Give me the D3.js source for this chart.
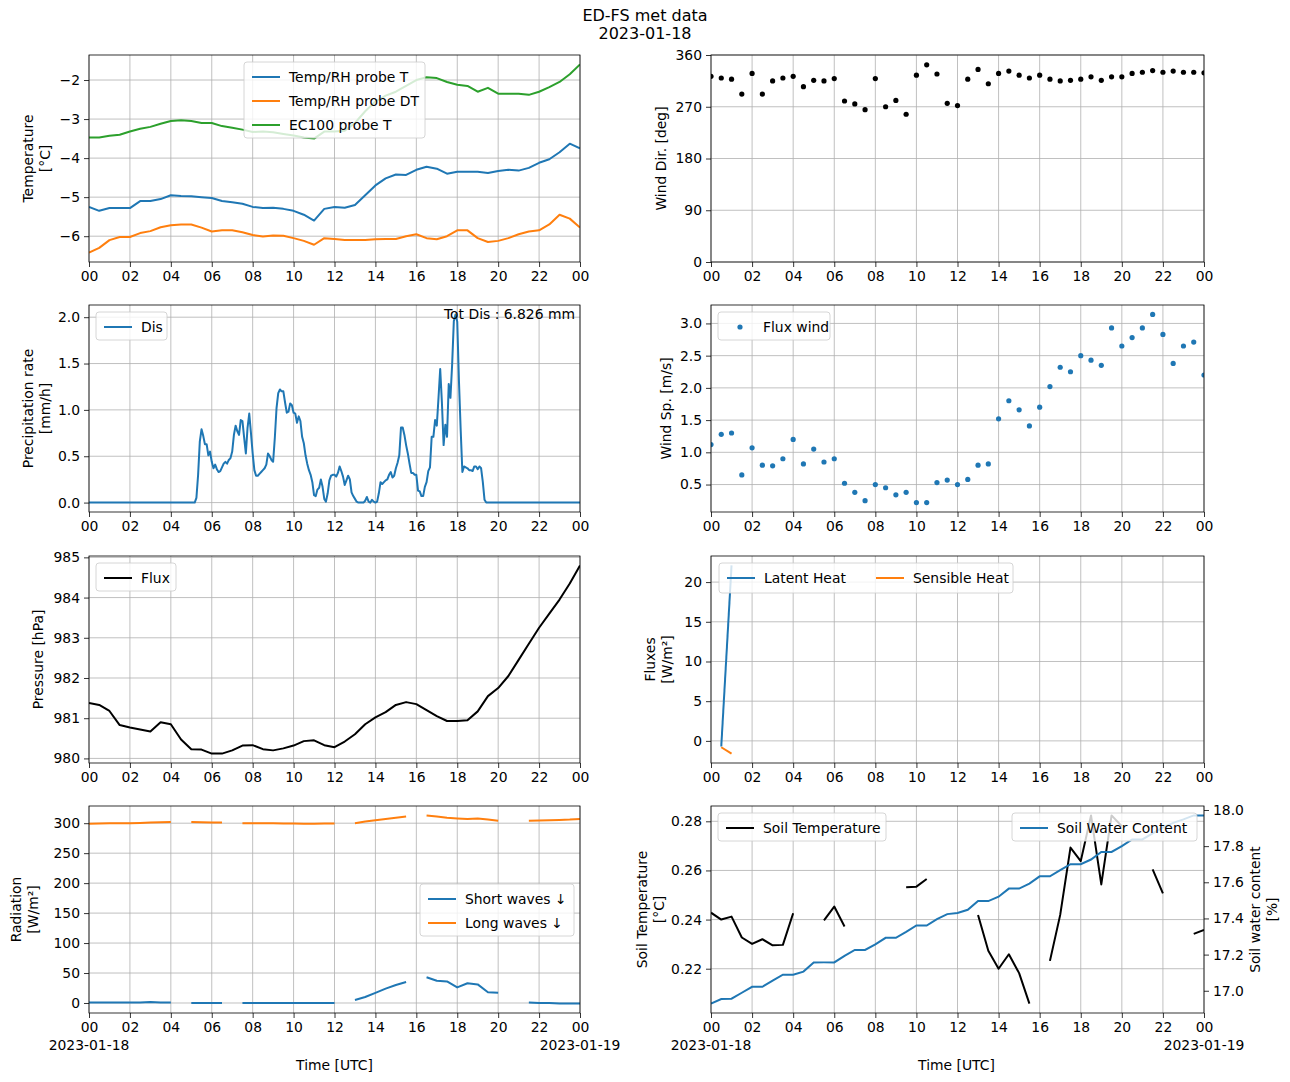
<!DOCTYPE html>
<html><head><meta charset="utf-8">
<script src="https://cdn.jsdelivr.net/npm/d3@7"></script>
<style>body{margin:0;background:#fff}text{font-family:"DejaVu Sans",sans-serif;}</style>
</head><body><svg id="c" width="1290" height="1082"></svg>
<script>
// ---------- DATA ----------
const timeTickLabels = ["00","02","04","06","08","10","12","14","16","18","20","22","00"];
const tempT = [-5.25,-5.35,-5.28,-5.28,-5.28,-5.1,-5.1,-5.05,-4.95,-4.97,-4.98,-5.0,-5.02,-5.1,-5.13,-5.17,-5.25,-5.28,-5.27,-5.3,-5.35,-5.45,-5.6,-5.3,-5.25,-5.27,-5.2,-4.95,-4.7,-4.52,-4.42,-4.43,-4.3,-4.22,-4.27,-4.4,-4.35,-4.35,-4.35,-4.38,-4.33,-4.3,-4.32,-4.25,-4.12,-4.03,-3.85,-3.63,-3.75];
const tempDT = [-6.42,-6.3,-6.1,-6.02,-6.02,-5.92,-5.87,-5.77,-5.72,-5.7,-5.7,-5.78,-5.88,-5.85,-5.85,-5.9,-5.97,-6.01,-5.98,-5.99,-6.05,-6.12,-6.22,-6.05,-6.07,-6.1,-6.1,-6.1,-6.08,-6.07,-6.07,-6.0,-5.95,-6.05,-6.08,-6.0,-5.85,-5.85,-6.05,-6.15,-6.12,-6.05,-5.95,-5.88,-5.85,-5.7,-5.45,-5.55,-5.78];
const tempEC = [-3.47,-3.47,-3.43,-3.4,-3.32,-3.25,-3.2,-3.12,-3.05,-3.03,-3.05,-3.1,-3.1,-3.18,-3.22,-3.27,-3.33,-3.32,-3.34,-3.38,-3.42,-3.47,-3.5,-3.32,-3.32,-3.3,-3.1,-2.8,-2.55,-2.4,-2.3,-2.15,-2.0,-1.93,-1.95,-2.05,-2.12,-2.15,-2.3,-2.2,-2.35,-2.35,-2.35,-2.38,-2.3,-2.18,-2.05,-1.85,-1.6];
const windDir = [323,320,318,292,328,292,315,320,323,305,316,315,319,280,275,265,319,270,281,257,325,343,327,276,272,318,335,310,328,332,325,320,325,318,315,316,318,322,316,322,322,328,330,333,330,332,330,330,329];
const windSpeed = [1.12,1.28,1.3,0.65,1.07,0.8,0.79,0.9,1.2,0.82,1.05,0.85,0.9,0.52,0.38,0.25,0.5,0.45,0.34,0.38,0.22,0.22,0.53,0.57,0.5,0.58,0.8,0.82,1.52,1.8,1.66,1.41,1.7,2.02,2.32,2.25,2.5,2.43,2.35,2.93,2.65,2.78,2.93,3.14,2.83,2.38,2.65,2.71,2.2];
const pressure = [981.38,981.33,981.18,980.83,980.77,980.72,980.67,980.9,980.85,980.47,980.23,980.22,980.12,980.12,980.2,980.32,980.33,980.23,980.2,980.25,980.32,980.43,980.45,980.33,980.28,980.42,980.6,980.85,981.02,981.15,981.33,981.4,981.35,981.2,981.05,980.93,980.93,980.95,981.17,981.55,981.75,982.05,982.45,982.85,983.25,983.6,983.95,984.35,984.8];
// discharge: 5-minute values from 05:00 to 19:25 (zero elsewhere)
const disValues = [0,0,0,0.05,0.30,0.66,0.79,0.72,0.63,0.63,0.51,0.55,0.44,0.37,0.41,0.36,0.33,0.34,0.38,0.42,0.44,0.42,0.46,0.48,0.55,0.73,0.83,0.77,0.73,0.89,0.88,0.70,0.53,0.81,0.96,0.75,0.53,0.35,0.29,0.29,0.31,0.33,0.35,0.37,0.41,0.53,0.50,0.46,0.44,0.70,1.02,1.18,1.22,1.20,1.20,1.08,0.97,0.98,1.07,1.05,0.97,0.96,0.86,0.93,0.88,0.71,0.64,0.51,0.42,0.35,0.30,0.22,0.08,0.07,0.14,0.16,0.25,0.17,0.04,0.01,0.10,0.24,0.29,0.30,0.30,0.28,0.32,0.39,0.34,0.28,0.19,0.24,0.29,0.25,0.11,0.07,0.04,0.01,0,0,0,0,0.02,0.06,0.01,0,0.03,0.01,0,0.01,0.10,0.22,0.20,0.22,0.24,0.25,0.30,0.33,0.27,0.29,0.37,0.43,0.51,0.81,0.81,0.73,0.62,0.53,0.42,0.32,0.32,0.30,0.30,0.13,0.12,0.07,0.07,0.17,0.22,0.34,0.38,0.71,0.71,0.89,0.83,1.13,1.44,1.08,0.62,0.84,0.71,1.28,1.13,1.49,1.96,2.03,1.95,1.31,0.79,0.33,0.39,0.38,0.37,0.35,0.35,0.34,0.39,0.39,0.36,0.39,0.37,0.22,0.03,0];
const totDis = "Tot Dis : 6.826 mm";
const latentHeat = [[0.5,-0.7],[1.0,22.1]];
const sensibleHeat = [[0.5,-0.8],[1.0,-1.6]];
const shortWaves = [1,1,1,1,1,1,1.5,1,1,null,0,0,0,0,null,0,0,0,0,0,0,0,0,0,0,null,5,10,17,24,30,35,null,43,37,36,26,33,31,18,17,null,null,1,0,0,-1,-1,-1];
const longWaves = [299,299.5,300,300,300,300.5,301,301.5,302,null,302,301.5,301,301,null,300,300,300,300,299.5,299.5,299,299,299.5,299.5,null,300,303,305,307,309,311,null,313,311,309,308,307,308,306,304,null,null,304,304.5,305,305.5,306,307];
const soilTemp = [0.2428,0.2400,0.2412,0.2327,0.2301,0.2320,0.2295,0.2297,0.2426,null,null,0.2397,0.2453,0.2372,null,null,null,null,null,0.2532,0.2534,0.2565,null,null,null,null,0.2419,0.2273,0.2200,0.2259,0.2182,0.2058,null,0.2232,0.2419,0.2693,0.2638,0.2824,0.2543,0.2824,0.2780,null,null,0.2604,0.2507,null,null,0.2342,0.2358];
const soilWater = [16.929,16.954,16.956,16.989,17.022,17.022,17.056,17.089,17.089,17.106,17.156,17.157,17.157,17.193,17.226,17.226,17.257,17.293,17.293,17.326,17.361,17.361,17.396,17.424,17.43,17.448,17.496,17.496,17.52,17.565,17.565,17.593,17.633,17.633,17.667,17.7,17.7,17.726,17.768,17.768,17.8,17.837,17.837,17.87,17.904,17.929,17.948,17.97,17.97];

// ---------- HELPERS ----------
const svg = d3.select("#c");
const C = {blue:"#1f77b4", orange:"#ff7f0e", green:"#2ca02c"};
const FS = 13.9;
const half = i => i*0.5;
const pad = (ext) => { const r = ext[1]-ext[0]; return [ext[0]-0.05*r, ext[1]+0.05*r]; };
const ext = (...arrs) => d3.extent(arrs.flat().filter(v => v!=null));
let clipId = 0;

function panel(o){
  const g = svg.append("g");
  const x = d3.scaleLinear().domain([0,24]).range([o.x, o.x+o.w]);
  const y = d3.scaleLinear().domain(o.yDomain).range([o.y+o.h, o.y]);
  const xt = d3.range(0,25,2);
  g.selectAll(null).data(xt).enter().append("line")
    .attr("x1",d=>x(d)).attr("x2",d=>x(d)).attr("y1",o.y).attr("y2",o.y+o.h)
    .attr("stroke","#b0b0b0").attr("stroke-width",0.8);
  g.selectAll(null).data(o.yTicks).enter().append("line")
    .attr("x1",o.x).attr("x2",o.x+o.w).attr("y1",d=>y(d)).attr("y2",d=>y(d))
    .attr("stroke","#b0b0b0").attr("stroke-width",0.8);
  const xa = g.append("g").attr("transform",`translate(0,${o.y+o.h})`)
    .call(d3.axisBottom(x).tickValues(xt).tickFormat((d,i)=>timeTickLabels[i]).tickSize(5).tickPadding(4));
  const ya = g.append("g").attr("transform",`translate(${o.x},0)`)
    .call(d3.axisLeft(y).tickValues(o.yTicks).tickFormat(o.fmt).tickSize(5).tickPadding(4));
  [xa,ya].forEach(a=>{a.select(".domain").remove();a.selectAll("text").attr("font-size",FS).attr("font-family","DejaVu Sans").attr("fill","#000");a.selectAll("line").attr("stroke","#000").attr("stroke-width",0.8);});
  const id = "clip"+(clipId++);
  svg.append("clipPath").attr("id",id).append("rect").attr("x",o.x).attr("y",o.y).attr("width",o.w).attr("height",o.h);
  const plot = g.append("g").attr("clip-path",`url(#${id})`);
  o.ylabel.forEach((t,i)=>{
    g.append("text").attr("transform",`translate(${o.ylx + i*16.5},${o.y+o.h/2}) rotate(-90)`)
      .attr("text-anchor","middle").attr("font-size",FS).text(t);
  });
  const frame = () => g.append("rect").attr("x",o.x).attr("y",o.y).attr("width",o.w).attr("height",o.h)
    .attr("fill","none").attr("stroke","#000").attr("stroke-width",0.8);
  return {g, plot, x, y, frame};
}
function line(p, pts, color){
  p.plot.append("path").datum(pts)
    .attr("d", d3.line().defined(d=>d[1]!=null).x(d=>p.x(d[0])).y(d=>p.y(d[1])))
    .attr("fill","none").attr("stroke",color).attr("stroke-width",2).attr("stroke-linejoin","round");
}
const ser = arr => arr.map((v,i)=>[half(i),v]);
function legend(g, x, y, items, opts={}){
  const rowH = 24;
  const w = opts.w, h = opts.colX ? rowH+6 : items.length*rowH+4;
  const gg = g.append("g").attr("transform",`translate(${x},${y})`);
  gg.append("rect").attr("width",w).attr("height",h).attr("rx",3).attr("fill","#fff").attr("fill-opacity",0.8).attr("stroke","#cccccc").attr("stroke-width",0.8);
  items.forEach((it,i)=>{
    const ox = opts.colX ? opts.colX[i] : 0, oy = opts.colX ? 0 : i*rowH;
    if(it.marker) gg.append("circle").attr("cx",ox+22).attr("cy",oy+15).attr("r",2.6).attr("fill",it.color);
    else gg.append("line").attr("x1",ox+8).attr("x2",ox+36).attr("y1",oy+15).attr("y2",oy+15).attr("stroke",it.color).attr("stroke-width",2);
    gg.append("text").attr("x",ox+45).attr("y",oy+20).attr("font-size",FS).text(it.label);
  });
}

// ---------- TITLE ----------
svg.append("text").attr("x",645).attr("y",21).attr("text-anchor","middle").attr("font-size",16).text("ED-FS met data");
svg.append("text").attr("x",645).attr("y",39).attr("text-anchor","middle").attr("font-size",16).text("2023-01-18");

const LX=89, RX=711, W=491, H=207, ROWS=[55,305,556,806];

{const p = panel({x:LX,y:ROWS[0],w:W,h:H,yDomain:pad(ext(tempT,tempDT,tempEC)),yTicks:[-6,-5,-4,-3,-2],fmt:d3.format("d"),ylabel:["Temperature","[°C]"],ylx:33});
 line(p,ser(tempT),C.blue); line(p,ser(tempDT),C.orange); line(p,ser(tempEC),C.green); p.frame();
 legend(p.g,244,62,[{label:"Temp/RH probe T",color:C.blue},{label:"Temp/RH probe DT",color:C.orange},{label:"EC100 probe T",color:C.green}],{w:181});}
{const p = panel({x:RX,y:ROWS[0],w:W+2,h:H,yDomain:[0,360],yTicks:[0,90,180,270,360],fmt:d3.format("d"),ylabel:["Wind Dir. [deg]"],ylx:666});
 p.plot.selectAll(null).data(ser(windDir)).enter().append("circle").attr("cx",d=>p.x(d[0])).attr("cy",d=>p.y(d[1])).attr("r",2.6).attr("fill","#000"); p.frame();}
{const disPts = [[0,0]].concat(disValues.map((v,k)=>[5+k/12,v])).concat([[24,0]]);
 const p = panel({x:LX,y:ROWS[1],w:W,h:H,yDomain:pad(ext(disValues)),yTicks:[0,0.5,1,1.5,2],fmt:d3.format(".1f"),ylabel:["Precipitation rate","[mm/h]"],ylx:33});
 line(p,disPts,C.blue); p.frame();
 p.g.append("text").attr("x",575).attr("y",319).attr("text-anchor","end").attr("font-size",FS).text(totDis);
 legend(p.g,96,312,[{label:"Dis",color:C.blue}],{w:71});}
{const p = panel({x:RX,y:ROWS[1],w:W+2,h:H,yDomain:pad(ext(windSpeed)),yTicks:[0.5,1,1.5,2,2.5,3],fmt:d3.format(".1f"),ylabel:["Wind Sp. [m/s]"],ylx:671});
 p.plot.selectAll(null).data(ser(windSpeed)).enter().append("circle").attr("cx",d=>p.x(d[0])).attr("cy",d=>p.y(d[1])).attr("r",2.6).attr("fill",C.blue); p.frame();
 legend(p.g,718,312,[{label:"Flux wind",color:C.blue,marker:true}],{w:112});}
{const p = panel({x:LX,y:ROWS[2],w:W,h:H,yDomain:pad(ext(pressure)),yTicks:[980,981,982,983,984,985],fmt:d3.format("d"),ylabel:["Pressure [hPa]"],ylx:43});
 line(p,ser(pressure),"#000"); p.frame();
 legend(p.g,96,563,[{label:"Flux",color:"#000"}],{w:80});}
{const p = panel({x:RX,y:ROWS[2],w:W+2,h:H,yDomain:pad(ext(latentHeat.map(d=>d[1]),sensibleHeat.map(d=>d[1]))),yTicks:[0,5,10,15,20],fmt:d3.format("d"),ylabel:["Fluxes","[W/m²]"],ylx:655});
 line(p,latentHeat,C.blue); line(p,sensibleHeat,C.orange); p.frame();
 legend(p.g,719,563,[{label:"Latent Heat",color:C.blue},{label:"Sensible Heat",color:C.orange}],{colX:[0,149],w:294});}
{const p = panel({x:LX,y:ROWS[3],w:W,h:H,yDomain:pad(ext(shortWaves,longWaves)),yTicks:[0,50,100,150,200,250,300],fmt:d3.format("d"),ylabel:["Radiation","[W/m²]"],ylx:21});
 line(p,ser(shortWaves),C.blue); line(p,ser(longWaves),C.orange); p.frame();
 legend(p.g,420,884,[{label:"Short waves  ↓",color:C.blue},{label:"Long waves  ↓",color:C.orange}],{w:154});}
{const p = panel({x:RX,y:ROWS[3],w:W+2,h:H,yDomain:pad(ext(soilTemp)),yTicks:[0.22,0.24,0.26,0.28],fmt:d3.format(".2f"),ylabel:["Soil Temperature","[°C]"],ylx:647});
 const y2 = d3.scaleLinear().domain(pad(ext(soilWater))).range([ROWS[3]+H,ROWS[3]]);
 const ra = p.g.append("g").attr("transform",`translate(${RX+W+2},0)`).call(d3.axisRight(y2).tickValues([17,17.2,17.4,17.6,17.8,18]).tickFormat(d3.format(".1f")).tickSize(5).tickPadding(4));
 ra.select(".domain").remove(); ra.selectAll("text").attr("font-size",FS).attr("font-family","DejaVu Sans"); ra.selectAll("line").attr("stroke","#000").attr("stroke-width",0.8);
 ["Soil water content","[%]"].forEach((t,i)=>p.g.append("text").attr("transform",`translate(${1260+i*16.5},${ROWS[3]+H/2}) rotate(-90)`).attr("text-anchor","middle").attr("font-size",FS).text(t));
 line(p,ser(soilTemp),"#000");
 p.plot.append("path").datum(ser(soilWater)).attr("d",d3.line().x(d=>p.x(d[0])).y(d=>y2(d[1]))).attr("fill","none").attr("stroke",C.blue).attr("stroke-width",2);
 p.frame();
 legend(p.g,718,813,[{label:"Soil Temperature",color:"#000"}],{w:168});
 legend(p.g,1012,813,[{label:"Soil Water Content",color:C.blue}],{w:185});}

[[LX,"2023-01-18"],[LX+W,"2023-01-19"],[RX,"2023-01-18"],[RX+W+2,"2023-01-19"]].forEach(([x,t])=>
  svg.append("text").attr("x",x).attr("y",1050).attr("text-anchor","middle").attr("font-size",FS).text(t));
[[LX+W/2,"Time [UTC]"],[RX+W/2,"Time [UTC]"]].forEach(([x,t])=>
  svg.append("text").attr("x",x).attr("y",1070).attr("text-anchor","middle").attr("font-size",FS).text(t));
</script></body></html>
